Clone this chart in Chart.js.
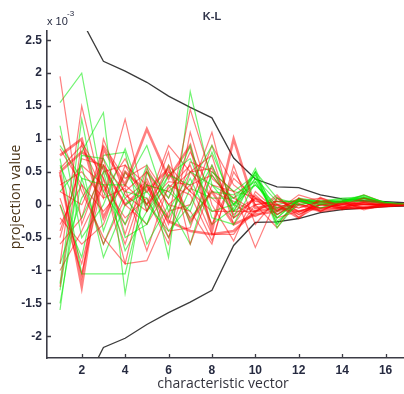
<!DOCTYPE html>
<html>
<head>
<meta charset="utf-8">
<script src="https://cdn.jsdelivr.net/npm/chart.js@4.4.1/dist/chart.umd.min.js"></script>
<style>
  html, body { margin: 0; padding: 0; background: #fff; }
  #wrap { width: 404px; height: 394px; }
</style>
</head>
<body>
<div id="wrap"><canvas id="kl" width="404" height="394"></canvas></div>
<script>
// characteristic vector index 1..17, projection values in units of 1e-3
var vectors = [1, 2, 3, 4, 5, 6, 7, 8, 9, 10, 11, 12, 13, 14, 15, 16, 17];
var xTicks = [2, 4, 6, 8, 10, 12, 14, 16];
var yTicks = [-2, -1.5, -1, -0.5, 0, 0.5, 1, 1.5, 2, 2.5];

var upperBound = [null, 2.8, 2.18, 2.03, 1.86, 1.65, 1.48, 1.32, 0.71, 0.39, 0.27, 0.26, 0.15, 0.09, 0.06, 0.045, 0.03];
var lowerBound = [null, -2.82, -2.17, -2.03, -1.82, -1.64, -1.48, -1.30, -0.62, -0.27, -0.26, -0.21, -0.12, -0.075, -0.05, -0.03, -0.02];

var redSeries = [
  [1.95, -0.3, 0.6, 0.2, 0.5, -0.2, 1.45, 0.4, 0.1, -0.1, 0.05, -0.05, 0.05, 0.0, 0.1, 0.02, 0],
  [-0.9, 1.5, 0.1, 1.3, -0.1, 0.6, 0.2, 1.1, -0.2, 0.1, -0.1, 0.1, 0.0, 0.05, 0.0, 0.01, 0],
  [0.5, -1.25, 0.85, 0.3, 1.15, 0.4, 0.9, -0.4, 1.0, -0.05, 0.0, -0.2, 0.1, -0.05, 0.05, 0, 0],
  [-1.25, 0.95, 0.4, -0.3, 0.3, -0.5, 0.5, 0.75, -0.3, 0.15, -0.15, 0.05, -0.05, 0.0, 0.03, -0.02, 0],
  [0.45, -1.1, 1.0, 0.15, -0.1, 0.8, -0.6, 0.3, 0.2, -0.65, 0.1, -0.1, 0.0, -0.05, -0.05, 0, 0],
  [1.05, 0.2, -0.5, -0.9, 0.5, 0.0, 0.3, -0.45, -0.45, 0.0, 0.05, 0.0, -0.05, 0.02, 0.0, 0, 0],
  [0.75, 1.0, -0.2, 0.5, 0.2, 0.55, -0.25, 0.2, -0.3, -0.15, -0.1, 0.0, -0.1, -0.05, -0.05, -0.02, 0],
  [-0.5, 0.7, 0.6, 0.0, -0.3, 0.25, 0.6, -0.3, 0.4, 0.1, -0.2, -0.1, 0.0, 0.0, 0.02, 0.0, 0],
  [0.0, -1.05, 0.4, -0.9, -0.85, -0.1, 0.0, 0.9, 0.3, 0.05, 0.0, -0.05, 0.05, -0.03, 0.0, 0, 0],
  [-0.3, 0.3, -0.6, 0.1, 0.35, -0.4, -0.35, 0.6, -0.1, -0.1, 0.15, -0.2, 0.0, -0.05, 0.1, 0, 0],
  [0.3, 0.5, 0.1, 0.25, -0.7, 0.3, 0.15, -0.55, 0.5, 0.0, -0.35, 0.1, -0.1, 0.05, -0.05, 0, 0],
  [-1.0, -0.4, 0.3, -0.2, 0.1, -0.6, 1.1, 0.0, -0.55, 0.2, -0.1, 0.15, 0.05, 0.02, 0.05, 0.01, 0],
  [0.5, 0.8, 0.55, 0.0, 0.3, -0.25, -0.4, -0.45, -0.4, -0.1, -0.05, -0.1, -0.05, -0.05, -0.05, -0.02, 0],
  [-0.2, -0.6, -0.3, 0.6, 0.0, 0.9, 0.5, 0.1, -0.2, 0.0, 0.05, 0.05, 0.1, 0.02, 0.15, 0.03, 0],
  [0.2, 0.0, 0.7, -0.45, 0.55, 0.0, -0.1, -0.6, 0.6, -0.3, 0.1, -0.15, 0.0, -0.02, 0.0, 0, 0],
  [0.55, 0.9, 0.2, 0.7, 0.0, 0.5, 0.2, -0.1, -0.1, 0.1, -0.05, 0.08, -0.08, 0.03, -0.06, 0.02, 0],
  [-0.6, -0.2, 0.9, 0.4, 0.6, 0.1, 0.8, 0.2, 0.05, -0.12, 0.12, -0.12, 0.04, -0.06, 0.04, -0.02, 0],
  [0.1, -0.9, 0.5, 0.6, 0.3, 0.2, 0.5, 0.55, -0.15, 0.08, -0.15, 0.02, -0.1, 0.05, -0.08, 0.0, 0],
  [0.85, 0.3, -0.1, 0.3, 0.0, 0.35, 0.3, 0.45, 0.0, -0.18, 0.0, -0.15, 0.02, -0.08, 0.02, -0.03, 0],
  [-0.4, 0.6, 0.3, -0.6, 0.4, -0.3, 0.65, 0.5, 0.2, 0.12, -0.08, 0.06, -0.06, 0.0, -0.03, 0.01, 0]
];
var redThick = [0, 0, 1, 0, 0, 0, 1, 0, 0, 0, 0, 0, 1, 0, 0, 0, 0, 0, 0, 0];

var greenSeries = [
  [1.55, 2.0, 0.2, -0.3, 0.6, -0.8, 1.72, 0.3, -0.1, 0.5, -0.35, 0.05, 0.0, 0.05, 0.1, 0.03, 0],
  [-1.6, 0.8, 1.4, -1.35, 0.5, 0.1, 0.9, -0.2, -0.3, 0.35, -0.2, 0.09, -0.05, 0.05, 0.15, 0.02, 0],
  [0.7, -1.05, -1.05, -1.05, 0.3, 0.2, -0.1, 0.8, 0.0, 0.5, 0.1, 0.0, 0.05, 0.05, 0.05, 0.02, 0],
  [-1.3, 0.75, 0.7, 0.1, -0.3, 0.45, 0.3, 0.9, -0.1, 0.4, 0.05, 0.05, 0.05, 0.1, 0.12, 0.04, 0],
  [0.0, -0.8, 0.75, 0.8, -0.6, 0.0, -0.6, 0.5, 0.2, 0.45, -0.1, 0.05, 0.05, 0.05, 0.1, 0.03, 0],
  [-1.5, 0.4, 0.3, 0.3, 0.9, -0.1, 0.5, 0.3, 0.1, 0.3, 0.0, 0.08, 0.05, 0.08, 0.1, 0.02, 0],
  [0.6, -0.2, 0.5, -0.7, -0.1, 0.45, 0.7, -0.1, 0.0, 0.4, -0.2, 0.07, 0.03, 0.05, 0.12, 0.02, 0],
  [-1.2, 1.3, -0.4, 0.5, 0.0, -0.4, 0.0, 0.6, -0.2, 0.5, -0.3, 0.1, 0.05, 0.06, 0.1, 0.03, 0],
  [1.2, -0.5, 0.0, 0.85, -0.1, 0.3, -0.2, 0.2, 0.15, 0.35, -0.15, 0.05, 0.02, 0.04, 0.08, 0.02, 0],
  [0.2, 0.6, -0.8, 0.0, 0.2, -0.2, 0.4, -0.3, -0.05, 0.55, -0.25, 0.0, 0.05, 0.05, 0.1, 0.02, 0],
  [-0.9, 0.1, 0.6, -0.5, -0.3, 0.6, -0.3, 0.45, 0.0, 0.3, -0.05, 0.06, 0.0, 0.03, 0.07, 0.01, 0],
  [0.9, 0.4, -0.6, 0.2, 0.1, -0.5, 0.25, 0.1, 0.1, 0.45, -0.3, 0.08, 0.04, 0.06, 0.14, 0.03, 0]
];

function points(values) {
  var out = [];
  for (var i = 0; i < vectors.length; i++) {
    out.push({ x: vectors[i], y: values[i] });
  }
  return out;
}

function lineSet(values, color, width) {
  return {
    data: points(values),
    borderColor: color,
    backgroundColor: "transparent",
    borderWidth: width,
    pointRadius: 0,
    tension: 0,
    fill: false,
    spanGaps: false,
  };
}

var datasets = [];
var n = Math.max(redSeries.length, greenSeries.length);
for (var k = 0; k < n; k++) {
  if (redSeries[k]) {
    datasets.push(lineSet(redSeries[k], "rgba(255,0,0,0.5)", redThick[k] ? 2.6 : 1.2));
  }
  if (greenSeries[k]) {
    datasets.push(lineSet(greenSeries[k], "rgba(0,235,0,0.55)", 1.2));
  }
}
datasets.push(lineSet(upperBound, "#3a3a3a", 1.3));
datasets.push(lineSet(lowerBound, "#3a3a3a", 1.3));

var axisColor = "#3c3c46";
var labelColor = "#262a40";

var decorations = {
  id: "decorations",
  afterDraw: function (chart) {
    var ctx = chart.ctx;
    var xs = chart.scales.x;
    var ys = chart.scales.y;
    var a = chart.chartArea;
    ctx.save();
    // inward tick marks
    ctx.strokeStyle = axisColor;
    ctx.lineWidth = 1.3;
    ctx.beginPath();
    for (var i = 0; i < yTicks.length; i++) {
      var py = Math.round(ys.getPixelForValue(yTicks[i])) + 0.5;
      ctx.moveTo(a.left, py);
      ctx.lineTo(a.left + 4, py);
    }
    for (var j = 0; j < xTicks.length; j++) {
      var px = Math.round(xs.getPixelForValue(xTicks[j])) + 0.5;
      ctx.moveTo(px, a.bottom);
      ctx.lineTo(px, a.bottom - 4);
    }
    ctx.stroke();

    // title
    ctx.fillStyle = "#30344a";
    ctx.font = "bold 11px 'Liberation Sans', Arial, sans-serif";
    ctx.textAlign = "center";
    ctx.textBaseline = "middle";
    ctx.fillText("K-L", 212, 17);

    // exponent
    ctx.fillStyle = labelColor;
    ctx.textAlign = "left";
    ctx.font = "11px 'Liberation Sans', Arial, sans-serif";
    ctx.fillText("x 10", 47, 22);
    ctx.font = "8px 'Liberation Sans', Arial, sans-serif";
    ctx.fillText("-3", 67, 14);

    // x axis title
    ctx.fillStyle = "#33333d";
    ctx.font = "14px 'Open Sans', 'DejaVu Sans', sans-serif";
    ctx.textAlign = "center";
    ctx.fillText("characteristic vector", 223, 384);

    // y axis title
    ctx.fillStyle = "#4a3418";
    ctx.translate(16, 197);
    ctx.rotate(-Math.PI / 2);
    ctx.fillText("projection value", 0, 0);
    ctx.restore();
  },
};

new Chart(document.getElementById("kl"), {
  type: "line",
  data: { datasets: datasets },
  options: {
    responsive: false,
    animation: false,
    layout: { padding: { top: 31, right: 0, left: 0, bottom: 0 } },
    plugins: {
      legend: { display: false },
      tooltip: { enabled: false },
      title: { display: false },
    },
    scales: {
      x: {
        type: "linear",
        min: 0.4,
        max: 16.85,
        afterBuildTicks: function (scale) {
          scale.ticks = xTicks.map(function (v) { return { value: v }; });
        },
        afterFit: function (scale) { scale.height = 36; },
        grid: { display: false, drawTicks: false },
        border: { display: true, color: axisColor, width: 1.6 },
        ticks: {
          padding: 5,
          color: labelColor,
          font: { family: "'Liberation Sans', Arial, sans-serif", size: 12, weight: "bold" },
          maxRotation: 0,
        },
      },
      y: {
        type: "linear",
        min: -2.33,
        max: 2.64,
        afterBuildTicks: function (scale) {
          scale.ticks = yTicks.map(function (v) { return { value: v }; });
        },
        afterFit: function (scale) { scale.width = 47; },
        grid: { display: false, drawTicks: false },
        border: { display: true, color: axisColor, width: 1.6 },
        ticks: {
          padding: 5,
          color: labelColor,
          font: { family: "'Liberation Sans', Arial, sans-serif", size: 12, weight: "bold" },
          callback: function (v) { return String(v); },
        },
      },
    },
  },
  plugins: [decorations],
});
</script>
</body>
</html>
